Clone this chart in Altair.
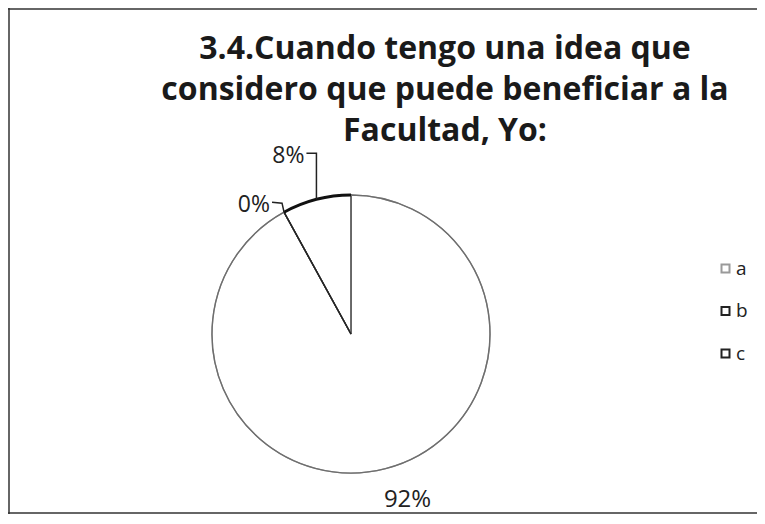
import math
import altair as alt
import pandas as pd

# ---------------- data ----------------
categories = ["a", "b", "c"]
percentages = [92, 8, 0]
pct_labels = ["92%", "8%", "0%"]
slice_order = ["a", "c", "b"]          # clockwise from 12 o'clock, as in the picture
title_lines = ["3.4.Cuando tengo una idea que",
               "considero que puede beneficiar a la",
               "Facultad, Yo:"]

# ---------------- layout / style ----------------
W, H = 749, 506
CX, CY, R = 343, 326, 139
FONT = "Open Sans"
INK = "#222222"

pie_df = pd.DataFrame({"cat": categories, "pct": percentages, "label": pct_labels})
pie_df["ord"] = [slice_order.index(c) for c in categories]

# mid angle of every slice, derived from the data
s = pie_df.sort_values("ord")
total = s["pct"].sum()
starts = s["pct"].cumsum() - s["pct"]
mid = {c: (c0 + p / 2) / total * 2 * math.pi for c, c0, p in zip(s["cat"], starts, s["pct"])}


def point(c, r):
    a = mid[c]
    return CX + r * math.sin(a), CY - r * math.cos(a)


# leader line shapes (offsets from the slice's rim point) and label offsets
leader_shape = {"b": [(0, 0), (0, -46), (-10, -46)],
                "c": [(0, 0), (-2, -9), (-12, -10)]}
label_place = {"a": (R + 36, 13, -4, "center"),
               "b": (R, -12, -43, "right"),
               "c": (R, -14, -7, "right")}

lead_rows = []
for c, shape in leader_shape.items():
    px, py = point(c, R)
    for i, (dx, dy) in enumerate(shape):
        lead_rows.append({"cat": c, "step": i, "x": px + dx, "y": py + dy})
leader_df = pd.DataFrame(lead_rows)

lab_rows = []
for c, lab in zip(categories, pct_labels):
    r, dx, dy, al = label_place[c]
    px, py = point(c, r)
    lab_rows.append({"cat": c, "label": lab, "x": px + dx, "y": py + dy, "al": al})
label_df = pd.DataFrame(lab_rows)

# ---------------- chart ----------------
fill_scale = alt.Scale(domain=categories, range=["#ffffff", "#ffffff", "#ffffff"])
stroke_scale = alt.Scale(domain=categories, range=["#9a9a9a", INK, INK])
leg = alt.Legend(title=None, orient="none", legendX=708, legendY=251,
                 symbolType="square", symbolSize=64, symbolStrokeWidth=2,
                 labelFont=FONT, labelFontSize=19, labelColor=INK,
                 labelOffset=1, rowPadding=22.5, padding=0)

pie = alt.Chart(pie_df).mark_arc(outerRadius=R, strokeWidth=1.3).encode(
    theta=alt.Theta("pct:Q", stack=True),
    order=alt.Order("ord:Q"),
    fill=alt.Fill("cat:N", scale=fill_scale, legend=leg),
    stroke=alt.Stroke("cat:N", scale=stroke_scale, legend=leg),
    x=alt.value(CX),
    y=alt.value(CY),
)

# outline overlay: slice a's edges in grey, the zero slice c as a dark radius
edges = alt.Chart(pie_df).transform_calculate(
    edge="datum.cat == 'a' ? '#6e6e6e' : (datum.cat == 'c' ? '#222222' : 'transparent')"
).mark_arc(outerRadius=R, strokeWidth=1.4, fill="transparent").encode(
    theta=alt.Theta("pct:Q", stack=True),
    order=alt.Order("ord:Q"),
    stroke=alt.Stroke("edge:N", scale=None),
    x=alt.value(CX),
    y=alt.value(CY),
)

rim = alt.Chart(pie_df).mark_arc(innerRadius=R - 1.4, outerRadius=R + 1.4).encode(
    theta=alt.Theta("pct:Q", stack=True),
    order=alt.Order("ord:Q"),
    fill=alt.condition(alt.datum.cat == "b", alt.value("#111111"), alt.value("transparent")),
    x=alt.value(CX),
    y=alt.value(CY),
)

leaders = alt.Chart(leader_df).mark_line(color=INK, strokeWidth=1.5).encode(
    x=alt.X("x:Q", scale=None),
    y=alt.Y("y:Q", scale=None),
    detail="cat:N",
    order="step:Q",
)

labels_c = alt.Chart(label_df).transform_filter(alt.datum.al == "center").mark_text(
    align="center", baseline="middle", font=FONT, fontSize=24, color=INK
).encode(x=alt.X("x:Q", scale=None), y=alt.Y("y:Q", scale=None), text="label:N")

labels_r = alt.Chart(label_df).transform_filter(alt.datum.al == "right").mark_text(
    align="right", baseline="middle", font=FONT, fontSize=23, color=INK
).encode(x=alt.X("x:Q", scale=None), y=alt.Y("y:Q", scale=None), text="label:N")

title = alt.Chart().mark_text(
    text=title_lines, align="center", baseline="top", lineHeight=41,
    font=FONT, fontSize=32, fontWeight="bold", color="#1a1a1a"
).encode(x=alt.value(437), y=alt.value(26))

frame_top = alt.Chart().mark_rule(color="#333333", strokeWidth=1.5).encode(
    x=alt.value(0), x2=alt.value(W + 10), y=alt.value(1))
frame_left = alt.Chart().mark_rule(color="#333333", strokeWidth=1.5).encode(
    x=alt.value(1), y=alt.value(0), y2=alt.value(H))
frame_bottom = alt.Chart().mark_rule(color="#333333", strokeWidth=1.5).encode(
    x=alt.value(0), x2=alt.value(W + 10), y=alt.value(H - 1))

chart = alt.layer(
    pie, edges, rim, leaders, labels_c, labels_r, title,
    frame_top, frame_left, frame_bottom
).properties(
    width=W, height=H, padding=0, background="white",
    autosize=alt.AutoSizeParams(type="none"),
).configure_view(strokeWidth=0)

chart.save("out.html", embed_options={"renderer": "svg", "actions": False})
